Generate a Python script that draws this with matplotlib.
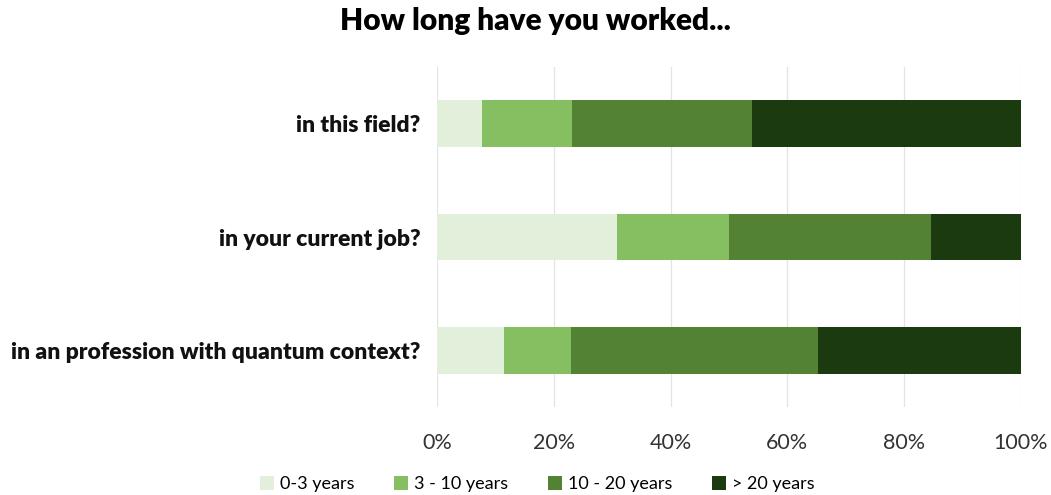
import matplotlib.pyplot as plt
import numpy as np

plt.rcParams['font.family'] = ['Lato', 'DejaVu Sans']

questions = ["in this field?", "in your current job?", "in an profession with quantum context?"]
groups = ["0-3 years", "3 - 10 years", "10 - 20 years", "> 20 years"]
# percent of respondents per group, one list per question
share_0_3 = [7.7, 30.8, 11.5]
share_3_10 = [15.4, 19.2, 11.5]
share_10_20 = [30.8, 34.6, 42.3]
share_20_plus = [46.1, 15.4, 34.7]
colors = ["#E2EFDA", "#86BE62", "#548235", "#1C3A0F"]

fig = plt.figure(figsize=(10.51, 4.95), dpi=100)
ax = fig.add_axes([0.4158, 0.1778, 0.5557, 0.6868])

y = np.arange(len(questions))
left = np.zeros(len(questions))
for vals, name, col in zip([share_0_3, share_3_10, share_10_20, share_20_plus], groups, colors):
    ax.barh(y, vals, left=left, height=0.41, color=col, label=name, zorder=3)
    left += np.array(vals)

ax.set_ylim(len(questions) - 0.5, -0.5)
ax.set_xlim(0, 100)
ax.set_yticks(y)
ax.set_yticklabels(questions, fontsize=16.5, fontweight='heavy', color='#111111')
ax.set_xticks(np.arange(0, 101, 20))
ax.set_xticklabels([f"{v}%" for v in range(0, 101, 20)], fontsize=15.5, color='#333333')
ax.tick_params(axis='both', length=0)
ax.tick_params(axis='x', pad=19)
ax.tick_params(axis='y', pad=12)
ax.grid(axis='x', color='#e3e3e3', linewidth=0.9, zorder=0)
for s in ax.spines.values():
    s.set_visible(False)

fig.suptitle("How long have you worked...", fontsize=21.5, fontweight='heavy', y=0.985, x=0.509)
fig.legend(loc='center', bbox_to_anchor=(0.511, 0.022), ncol=4, frameon=False, fontsize=13,
           handlelength=0.8, handleheight=0.8, handletextpad=0.3, columnspacing=2.2)

fig.savefig("out.png", dpi=100)
